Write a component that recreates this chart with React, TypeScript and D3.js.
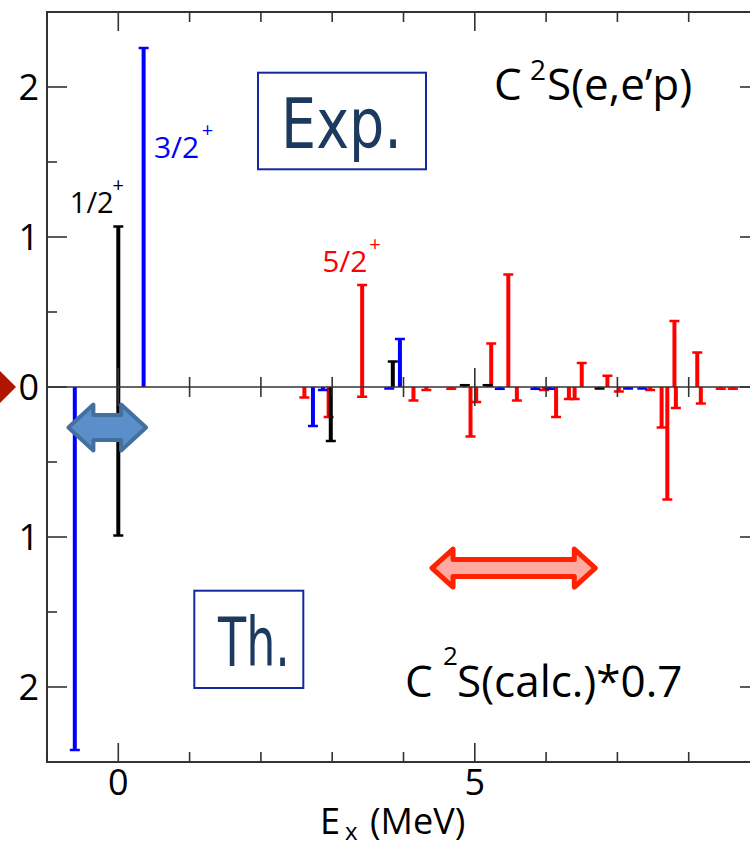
import React from "react";
import * as d3 from "d3";

// ---- data (E in MeV, spectroscopic strength C^2S) ----
const X_DOMAIN: [number, number] = [-1, 9];
const Y_DOMAIN: [number, number] = [-2.5, 2.5];
const xMajorTicks = [0, 5];
const xMinorTicks = [-1, 1, 2, 3, 4, 6, 7, 8, 9];
const yMajorTicks = [-2, -1, 0, 1, 2];
const yMinorTicks = [-1.5, -0.5, 0.5, 1.5];

// Experiment (drawn upward)
const expBlack: [number, number][] = [[0, 1.07], [3.85, 0.17], [4.86, 0.012], [5.18, 0.012]];
const expBlue: [number, number][] = [[0.355, 2.26], [3.95, 0.32]];
const expRed: [number, number][] = [
  [3.42, 0.68], [5.23, 0.29], [5.47, 0.75], [6.5, 0.16], [6.86, 0.075], [7.8, 0.44], [8.12, 0.23],
];
// Theory * 0.7 (drawn downward)
const thBlack: [number, number][] = [[0, 0.99], [2.98, 0.36], [6.75, 0.01]];
const thBlue: [number, number][] = [
  [-0.61, 2.42], [2.73, 0.26], [2.87, 0.02], [3.8, 0.01], [5.35, 0.012], [5.85, 0.012], [6.05, 0.012], [7.15, 0.01], [7.35, 0.01],
];
const thRed: [number, number][] = [
  [2.61, 0.07], [2.95, 0.2], [3.42, 0.065], [4.14, 0.09], [4.32, 0.02], [4.67, 0.012],
  [4.94, 0.33], [5.02, 0.1], [5.59, 0.09], [5.97, 0.02], [6.14, 0.2], [6.32, 0.08],
  [6.4, 0.08], [7.02, 0.03], [7.46, 0.02], [7.62, 0.27], [7.7, 0.75], [7.82, 0.14],
  [8.17, 0.11], [8.45, 0.012], [8.62, 0.012],
];

const W = 750;
const H = 848;
const FONT = "'Open Sans', 'DejaVu Sans', sans-serif";
const HAND = "'DejaVu Sans', sans-serif";

const x = d3.scaleLinear().domain(X_DOMAIN).range([47, 760]);
const y = d3.scaleLinear().domain(Y_DOMAIN).range([762, 12]);

function Bars({ data, color, dir }: { data: [number, number][]; color: string; dir: 1 | -1 }) {
  return (
    <g>
      {data.map(([e, s], i) => {
        const px = x(e);
        const py = y(dir * s);
        return (
          <g key={i}>
            <line x1={px} x2={px} y1={y(0)} y2={py} stroke={color} strokeWidth={4} />
            <line x1={px - 5} x2={px + 5} y1={py} y2={py} stroke={color} strokeWidth={2.5} />
          </g>
        );
      })}
    </g>
  );
}

function arrowPath(x1: number, x2: number, yc: number, hh: number, sh: number, L: number) {
  const p = d3.path();
  p.moveTo(x1, yc);
  p.lineTo(x1 + L, yc - hh);
  p.lineTo(x1 + L, yc - sh);
  p.lineTo(x2 - L, yc - sh);
  p.lineTo(x2 - L, yc - hh);
  p.lineTo(x2, yc);
  p.lineTo(x2 - L, yc + hh);
  p.lineTo(x2 - L, yc + sh);
  p.lineTo(x1 + L, yc + sh);
  p.lineTo(x1 + L, yc + hh);
  p.closePath();
  return p.toString();
}

export default function App() {
  const axisColor = "#333";
  const x0 = x(X_DOMAIN[0]);
  const x1 = x(X_DOMAIN[1]);
  const yTop = y(Y_DOMAIN[1]);
  const yBot = y(Y_DOMAIN[0]);
  const y0 = y(0);

  return (
    <svg width={W} height={H} style={{ position: "absolute", left: 0, top: 0, background: "#fff" }}>
      <rect x={0} y={0} width={W} height={H} fill="#fff" />

      {/* red marker at left */}
      <polygon points={`16,${y0} 0,${y0 - 16} -16,${y0} 0,${y0 + 16}`} fill="#b01500" />

      {/* bars */}
      <Bars data={thRed} color="#ff0000" dir={-1} />
      <Bars data={thBlue} color="#0000ff" dir={-1} />
      <Bars data={thBlack} color="#000000" dir={-1} />
      <Bars data={expRed} color="#ff0000" dir={1} />
      <Bars data={expBlack} color="#000000" dir={1} />
      <Bars data={expBlue} color="#0000ff" dir={1} />

      {/* zero line with ticks */}
      <line x1={x0} x2={x1} y1={y0} y2={y0} stroke={axisColor} strokeWidth={1.6} />
      {xMajorTicks.map((t) => (
        <line key={"zm" + t} x1={x(t)} x2={x(t)} y1={y0 - 19} y2={y0 + 19} stroke={axisColor} strokeWidth={1.6} />
      ))}
      {xMinorTicks.map((t) => (
        <line key={"zn" + t} x1={x(t)} x2={x(t)} y1={y0 - 10} y2={y0 + 10} stroke={axisColor} strokeWidth={1.6} />
      ))}

      {/* frame */}
      <rect x={x0} y={yTop} width={x1 - x0} height={yBot - yTop} fill="none" stroke={axisColor} strokeWidth={2} />

      {/* x ticks top and bottom */}
      {xMajorTicks.map((t) => (
        <g key={"xm" + t}>
          <line x1={x(t)} x2={x(t)} y1={yBot} y2={yBot - 19} stroke={axisColor} strokeWidth={1.6} />
          <line x1={x(t)} x2={x(t)} y1={yTop} y2={yTop + 19} stroke={axisColor} strokeWidth={1.6} />
          <text x={x(t)} y={yBot + 33} fontSize={36} fontFamily={FONT} textAnchor="middle" fill="#000">
            {t}
          </text>
        </g>
      ))}
      {xMinorTicks.map((t) => (
        <g key={"xn" + t}>
          <line x1={x(t)} x2={x(t)} y1={yBot} y2={yBot - 10} stroke={axisColor} strokeWidth={1.6} />
          <line x1={x(t)} x2={x(t)} y1={yTop} y2={yTop + 10} stroke={axisColor} strokeWidth={1.6} />
        </g>
      ))}

      {/* y ticks left and right */}
      {yMajorTicks.map((t) => (
        <g key={"ym" + t}>
          <line x1={x0} x2={x0 + 20} y1={y(t)} y2={y(t)} stroke={axisColor} strokeWidth={1.6} />
          <line x1={x1} x2={x1 - 20} y1={y(t)} y2={y(t)} stroke={axisColor} strokeWidth={1.6} />
          <text x={39} y={y(t) + 13} fontSize={36} fontFamily={FONT} textAnchor="end" fill="#000">
            {Math.abs(t)}
          </text>
        </g>
      ))}
      {yMinorTicks.map((t) => (
        <g key={"yn" + t}>
          <line x1={x0} x2={x0 + 10} y1={y(t)} y2={y(t)} stroke={axisColor} strokeWidth={1.6} />
          <line x1={x1} x2={x1 - 10} y1={y(t)} y2={y(t)} stroke={axisColor} strokeWidth={1.6} />
        </g>
      ))}

      {/* x axis label */}
      <text x={320} y={834} fontSize={36} fontFamily={FONT} fill="#000">
        E
      </text>
      <text x={345} y={840} fontSize={24} fontFamily={FONT} fill="#000">
        x
      </text>
      <text x={370} y={834} fontSize={36} fontFamily={FONT} fill="#000">
        (MeV)
      </text>

      {/* state labels */}
      <text x={x(-0.68)} y={y(1.16)} fontSize={29} fontFamily={FONT} fill="#000">
        1/2
      </text>
      <text x={x(-0.08)} y={y(1.3)} fontSize={20} fontFamily={FONT} fill="#000">
        +
      </text>
      <text x={x(0.5)} y={y(1.53)} fontSize={30} fontFamily={FONT} fill="#0000ff">
        3/2
      </text>
      <text x={x(1.17)} y={y(1.67)} fontSize={20} fontFamily={FONT} fill="#0000ff">
        +
      </text>
      <text x={x(2.86)} y={y(0.77)} fontSize={30} fontFamily={FONT} fill="#ff0000">
        5/2
      </text>
      <text x={x(3.52)} y={y(0.91)} fontSize={20} fontFamily={FONT} fill="#ff0000">
        +
      </text>

      {/* boxes */}
      <rect x={258} y={72.7} width={168} height={96.6} fill="none" stroke="#1428a0" strokeWidth={2} />
      <text x={281} y={148} fontSize={70} fontFamily={HAND} fill="#1b3a5e" textLength={121} lengthAdjust="spacingAndGlyphs">
        Exp.
      </text>
      <rect x={194.3} y={590.7} width={109} height={97.3} fill="none" stroke="#1428a0" strokeWidth={2} />
      <text x={218} y={666} fontSize={67} fontFamily={HAND} fill="#1b3a5e" textLength={72} lengthAdjust="spacingAndGlyphs">
        Th.
      </text>

      {/* annotations */}
      <text x={494} y={100} fontSize={44} fontFamily={FONT} fill="#000">C</text>
      <text x={530} y={80} fontSize={28} fontFamily={FONT} fill="#000">2</text>
      <text x={547} y={100} fontSize={44} fontFamily={FONT} fill="#000">S(e,e’p)</text>

      <text x={405} y={697} fontSize={44} fontFamily={FONT} fill="#000">C</text>
      <text x={443} y={665} fontSize={26} fontFamily={FONT} fill="#000">2</text>
      <text x={457} y={697} fontSize={44} fontFamily={FONT} fill="#000">S(calc.)*0.7</text>

      {/* arrows */}
      <path
        d={arrowPath(x(-0.7), x(0.39), y(-0.27), 23, 12.5, 25)}
        fill="#5b8fc9"
        stroke="#44709f"
        strokeWidth={4}
        strokeLinejoin="round"
      />
      <path
        d={arrowPath(x(4.4), x(6.69), y(-1.207), 19, 8.5, 21)}
        fill="#ffaaa0"
        stroke="#ff2200"
        strokeWidth={5}
        strokeLinejoin="round"
      />
    </svg>
  );
}
